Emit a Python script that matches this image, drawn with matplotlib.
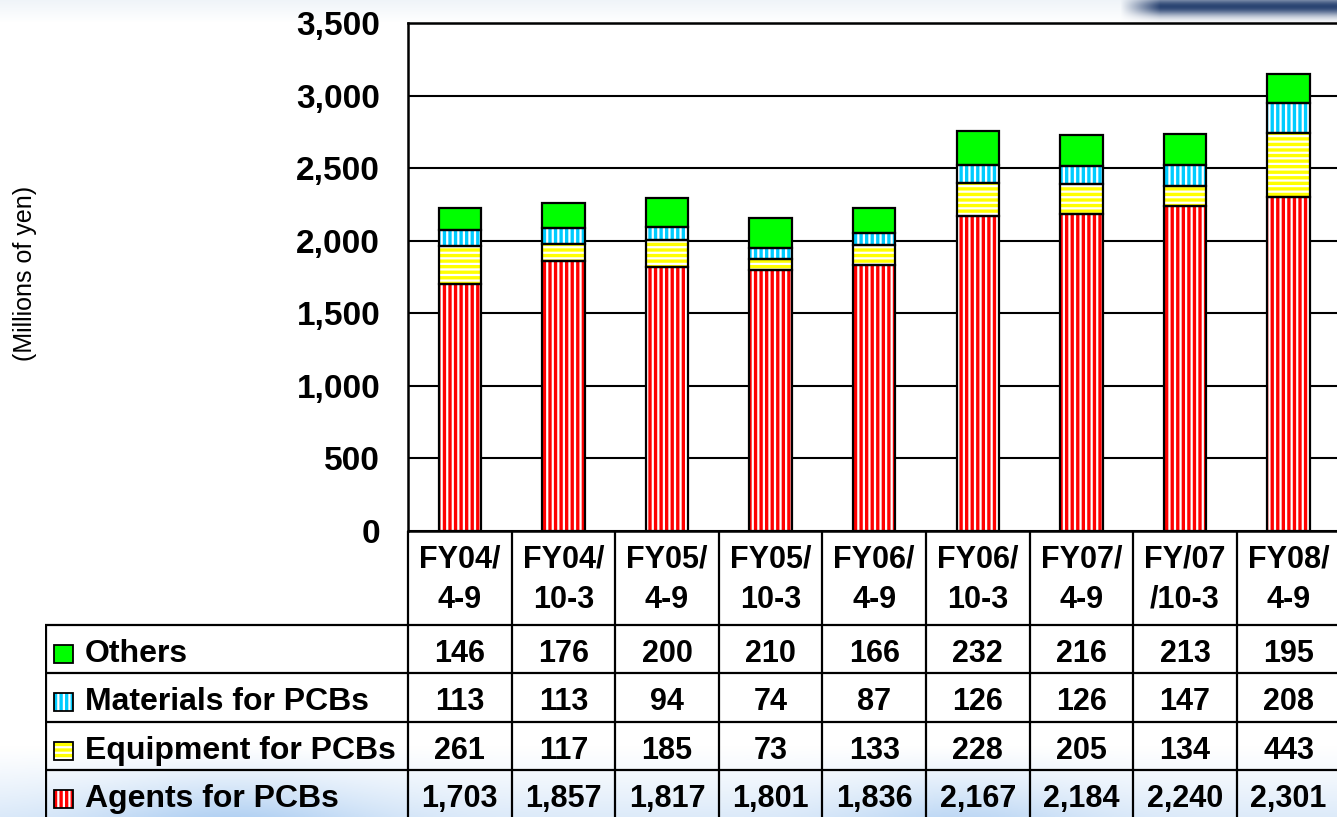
import numpy as np
import matplotlib.pyplot as plt
from matplotlib.patches import Rectangle

plt.rcParams['font.family'] = ['Liberation Sans', 'DejaVu Sans']
plt.rcParams['hatch.linewidth'] = 1.6

# Данные (млн иен)
periods = ['FY04/\n4-9', 'FY04/\n10-3', 'FY05/\n4-9', 'FY05/\n10-3', 'FY06/\n4-9',
           'FY06/\n10-3', 'FY07/\n4-9', 'FY/07\n/10-3', 'FY08/\n4-9']
agents = [1703, 1857, 1817, 1801, 1836, 2167, 2184, 2240, 2301]
equipment = [261, 117, 185, 73, 133, 228, 205, 134, 443]
materials = [113, 113, 94, 74, 87, 126, 126, 147, 208]
others = [146, 176, 200, 210, 166, 232, 216, 213, 195]

names = ['Others', 'Materials for PCBs', 'Equipment for PCBs', 'Agents for PCBs']
table_rows = [others, materials, equipment, agents]

# стиль серий: цвет заливки, штриховка
styles = {
    'Agents for PCBs': ('#FF0000', '|||'),
    'Equipment for PCBs': ('#FFFF00', '---'),
    'Materials for PCBs': ('#00CCFF', '|||'),
    'Others': ('#00FF00', None),
}

W, H = 1337, 817
fig = plt.figure(figsize=(W / 100, H / 100), dpi=100)

# фон: светлый градиент снизу и тёмный мазок справа сверху
bg = fig.add_axes([0, 0, 1, 1])
yy, xx = np.mgrid[0:H, 0:W]
img = np.ones((H, W, 3))
top = np.clip(1 - yy / 22.0, 0, 1) * 0.06
img -= top[..., None] * np.array([1.0, 0.7, 0.4])
low = np.clip((yy - 745) / 72.0, 0, 1) ** 1.2
blob = 0.45 + 0.55 * np.exp(-((xx - 230) / 140.0) ** 2) + 0.4 * np.exp(-((xx - 960) / 120.0) ** 2)
tint = low * blob * 0.4
img -= tint[..., None] * np.array([0.75, 0.45, 0.12])
streak = np.clip((xx - 1120) / 40.0, 0, 1) * np.exp(-((yy - 6) / 9.0) ** 2)
navy = np.array([0.17, 0.27, 0.45])
img = img * (1 - streak[..., None]) + navy * streak[..., None]
bg.imshow(np.clip(img, 0, 1), extent=[0, W, H, 0], aspect='auto')
bg.axis('off')

# основная область графика
col_w = 103.6
ax_left, ax_top, ax_bot = 408, 23, 531
ax = fig.add_axes([ax_left / W, (H - ax_bot) / H, 9 * col_w / W, (ax_bot - ax_top) / H])
ax.set_facecolor('white')
x = np.arange(len(periods))
bw = 0.41
bottom = np.zeros(len(periods))
for name, vals in [('Agents for PCBs', agents), ('Equipment for PCBs', equipment),
                   ('Materials for PCBs', materials), ('Others', others)]:
    fc, hatch = styles[name]
    ax.bar(x, vals, bw, bottom=bottom, color=fc, edgecolor='white', hatch=hatch, lw=0, zorder=2)
    ax.bar(x, vals, bw, bottom=bottom, fill=False, edgecolor='black', lw=1.6, zorder=3)
    bottom += np.array(vals)

ax.set_xlim(-0.5, 8.5)
ax.set_ylim(0, 3500)
ax.set_yticks(range(0, 3501, 500))
ax.set_yticklabels([f'{v:,}' for v in range(0, 3501, 500)], fontsize=24, fontweight='bold')
ax.set_xticks([])
ax.tick_params(axis='y', length=0, pad=20)
ax.yaxis.grid(True, color='black', lw=1.5)
ax.set_axisbelow(True)
for s in ['left', 'top', 'bottom']:
    ax.spines[s].set_linewidth(1.8)
ax.spines['right'].set_visible(False)

fig.text(25 / W, 1 - 273 / H, '(Millions of yen)', rotation=90, fontsize=18,
         ha='center', va='center')

# таблица под графиком
tab_left = 45
x0 = -0.5 - (ax_left - tab_left) / col_w
tab = fig.add_axes([tab_left / W, 0, (ax_left + 9 * col_w - tab_left) / W, (H - ax_bot) / H])
tab.set_xlim(x0, 8.5)
hdr = 94 / 48.3
nrows = (H - ax_bot) / 48.3
tab.set_ylim(nrows, 0)
tab.axis('off')
tab.patch.set_alpha(0)

tab.hlines([hdr + k for k in range(len(names))], x0, 8.5, color='black', lw=1.6)
tab.vlines(np.arange(-0.5, 9.0, 1.0), 0, nrows, color='black', lw=1.6)
tab.vlines([x0 + 0.01], hdr, nrows, color='black', lw=1.6)

for i, p in enumerate(periods):
    tab.text(i, hdr / 2 + 0.03, p, ha='center', va='center', fontsize=22,
             fontweight='bold', linespacing=1.45)

mk_x = x0 + 9 / col_w
mk_w = 19 / col_w
mk_h = 18 / 48.3
for r, (name, vals) in enumerate(zip(names, table_rows)):
    yc = hdr + r + 0.5
    fc, hatch = styles[name]
    tab.add_patch(Rectangle((mk_x, yc - mk_h / 2 + 0.1), mk_w, mk_h, facecolor=fc,
                            edgecolor='white', hatch=hatch, lw=0))
    tab.add_patch(Rectangle((mk_x, yc - mk_h / 2 + 0.1), mk_w, mk_h, fill=False,
                            edgecolor='black', lw=1.3))
    tab.text(x0 + 40 / col_w, yc + 0.1, name, ha='left', va='center',
             fontsize=23, fontweight='bold')
    for i, v in enumerate(vals):
        tab.text(i, yc + 0.1, f'{v:,}', ha='center', va='center',
                 fontsize=22, fontweight='bold')

fig.savefig('out.png', dpi=100)
